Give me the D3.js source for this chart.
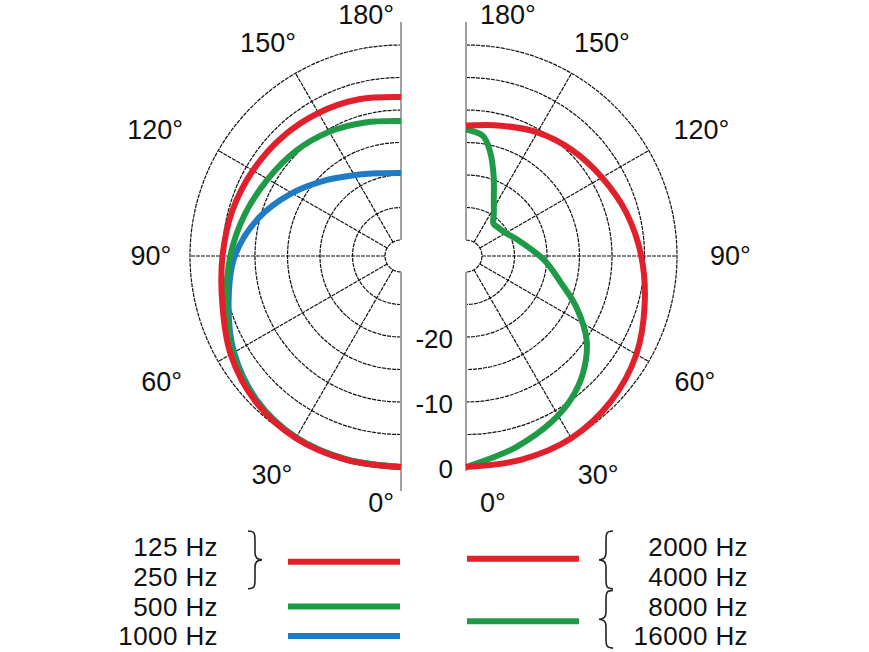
<!DOCTYPE html>
<html>
<head>
<meta charset="utf-8">
<script src="https://cdn.jsdelivr.net/npm/d3@7"></script>
<style>
  body { margin: 0; background: #fff; }
  text { font-family: 'Liberation Sans', Arial, sans-serif; fill: #111; }
</style>
</head>
<body>
<div id="chart"></div>
<script>
// Polar values, in dB (0 deg = front, 180 deg = rear)
const leftAngles = [0, 15, 30, 45, 60, 75, 90, 105, 120, 135, 150, 165, 180]
const db125 = [0, 0, -0.1, -0.8, -2.2, -4.0, -5.0, -5.6, -6.15, -6.6, -7.05, -7.5, -8.0]
const db500 = [0, -0.05, -0.2, -1.0, -2.6, -4.7, -6.2, -7.6, -8.8, -9.6, -10.4, -11.2, -11.7]
const db1000 = [0, -0.05, -0.2, -1.1, -2.8, -5.0, -6.9, -9.8, -13.1, -16.0, -18.1, -19.3, -19.7]

const rightAngles = [0, 15, 30, 45, 60, 75, 90, 105, 120, 135, 150, 165, 180]
const db2000 = [0, 0, -0.1, -0.9, -2.2, -4.0, -5.5, -6.9, -8.3, -9.4, -10.5, -11.7, -12.4]
const angles8000 = [0, 7, 15, 27, 36, 45, 55, 65, 74, 87, 108, 120, 133, 140, 147, 154, 161, 167, 172, 180]
const db8000 = [0, -1.1, -2.1, -3.7, -5.1, -7.0, -9.8, -13.7, -17.2, -20.4, -24.2, -25.4, -25.9, -25.9, -24.6, -22.7, -19.4, -16.0, -13.8, -13.0]

// Grid and labels
const ringLevels = [-30, -25, -20, -15, -10, -5, 0]
const spokeAngles = [30, 60, 90, 120, 150]
const dbTicks = [0, -10, -20]
const angleTicks = [0, 30, 60, 90, 120, 150, 180]
const legendLeft = ['125 Hz', '250 Hz', '500 Hz', '1000 Hz']
const legendRight = ['2000 Hz', '4000 Hz', '8000 Hz', '16000 Hz']

const red = '#e1202b'
const green = '#1f9a46'
const blue = '#1f7bc3'

const width = 869
const height = 652
const centers = { left: [401, 256], right: [466, 256] }

const svg = d3
  .select('#chart')
  .append('svg')
  .attr('width', width)
  .attr('height', height)

// Create your scales
const rScale = d3.scaleLinear().domain([-30, 0]).range([16, 211])
const angleScales = {
  left: d3.scaleLinear().domain([0, 180]).range([-Math.PI, 0]),
  right: d3.scaleLinear().domain([0, 180]).range([Math.PI, 0])
}
const rad = d => (d * Math.PI) / 180

const halves = {
  left: [
    { angles: leftAngles, values: db1000, color: blue },
    { angles: leftAngles, values: db500, color: green },
    { angles: leftAngles, values: db125, color: red }
  ],
  right: [
    { angles: angles8000, values: db8000, color: green },
    { angles: rightAngles, values: db2000, color: red }
  ]
}

// how far a label's centre sits beyond the label ring, per side
function labelExtra(side, d, w) {
  const s = Math.sin(rad(d))
  if (side === 'right') return (w / 2 - 6) * s
  if (d === 90) return 0
  if (d === 60 || d === 120) return (w / 2 + 6) * s
  return (w / 2 - 12) * s
}

function drawHalf(side) {
  const [cx, cy] = centers[side]
  const sign = side === 'left' ? -1 : 1
  const g = svg.append('g').attr('transform', 'translate(' + cx + ',' + cy + ')')

  // rings, half circles ending on the axis
  g.selectAll('.ring')
    .data(ringLevels)
    .enter()
    .append('path')
    .attr('class', 'ring')
    .attr('d', d => {
      const r = rScale(d)
      return sign < 0
        ? 'M0,' + r + 'A' + r + ',' + r + ' 0 0 1 0,' + -r
        : 'M0,' + -r + 'A' + r + ',' + r + ' 0 0 1 0,' + r
    })
    .attr('fill', 'none')
    .attr('stroke', '#111')
    .attr('stroke-width', 1.2)
    .attr('stroke-dasharray', '4,1')

  // spokes
  g.selectAll('.spoke')
    .data(spokeAngles)
    .enter()
    .append('line')
    .attr('class', 'spoke')
    .attr('x1', d => sign * rScale(-30) * Math.sin(rad(d)))
    .attr('y1', d => rScale(-30) * Math.cos(rad(d)))
    .attr('x2', d => sign * rScale(0) * Math.sin(rad(d)))
    .attr('y2', d => rScale(0) * Math.cos(rad(d)))
    .attr('stroke', '#111')
    .attr('stroke-width', 1.2)
    .attr('stroke-dasharray', '4,1')

  // grey 0-180 axis
  const axisEnds = [
    [-rScale(0) - 23, -rScale(-30)],
    [rScale(-30), rScale(0) + (side === 'left' ? 24 : 4)]
  ]
  g.selectAll('.vaxis')
    .data(axisEnds)
    .enter()
    .append('line')
    .attr('x1', 0)
    .attr('x2', 0)
    .attr('y1', d => d[0])
    .attr('y2', d => d[1])
    .attr('stroke', '#a0a0a0')
    .attr('stroke-width', 2)

  // response curves
  const line = d3
    .lineRadial()
    .angle(d => angleScales[side](d.a))
    .radius(d => rScale(d.v))
    .curve(d3.curveCatmullRom.alpha(0.5))

  g.selectAll('.curve')
    .data(halves[side])
    .enter()
    .append('path')
    .attr('class', 'curve')
    .attr('d', s => line(s.angles.map((a, i) => ({ a: a, v: s.values[i] }))))
    .attr('fill', 'none')
    .attr('stroke', s => s.color)
    .attr('stroke-width', 6)

  // angle labels
  const labels = g
    .selectAll('.alabel')
    .data(angleTicks)
    .enter()
    .append('text')
    .attr('class', 'alabel')
    .style('font-size', '27px')
    .attr('dy', '0.35em')
    .text(d => d + '°')

  labels.each(function(d) {
    const t = d3.select(this)
    if (d === 0 || d === 180) {
      t.attr('text-anchor', sign < 0 ? 'end' : 'start')
        .attr('x', sign < 0 ? -7 : 14)
        .attr('y', d === 0 ? 247 : -241)
    } else {
      const w = this.getComputedTextLength()
      const s = Math.sin(rad(d))
      t.attr('text-anchor', 'middle')
        .attr('x', sign * (250 * s + labelExtra(side, d, w)))
        .attr('y', 252 * Math.cos(rad(d)) + (d === 150 ? 5 : 0))
    }
  })
}

drawHalf('left')
drawHalf('right')

// dB scale between the halves
svg
  .selectAll('.dblabel')
  .data(dbTicks)
  .enter()
  .append('text')
  .attr('class', 'dblabel')
  .attr('x', 453)
  .attr('y', d => centers.left[1] + rScale(d) + 2)
  .attr('dy', '0.35em')
  .attr('text-anchor', 'end')
  .style('font-size', '26px')
  .text(d => d)

// Legend
const rowY = i => 547 + i * 29.7

svg
  .selectAll('.legl')
  .data(legendLeft)
  .enter()
  .append('text')
  .attr('x', 218)
  .attr('y', (d, i) => rowY(i))
  .attr('dy', '0.35em')
  .attr('text-anchor', 'end')
  .style('font-size', '26px')
  .style('letter-spacing', '0.4px')
  .text(d => d)

svg
  .selectAll('.legr')
  .data(legendRight)
  .enter()
  .append('text')
  .attr('x', 748)
  .attr('y', (d, i) => rowY(i))
  .attr('dy', '0.35em')
  .attr('text-anchor', 'end')
  .style('font-size', '26px')
  .style('letter-spacing', '0.4px')
  .text(d => d)

const legendLines = [
  { x: 288, rows: [0, 1], color: red },
  { x: 288, rows: [2, 2], color: green },
  { x: 288, rows: [3, 3], color: blue },
  { x: 467, rows: [0, 1], color: red, dy: -3 },
  { x: 467, rows: [2, 3], color: green }
]

svg
  .selectAll('.legline')
  .data(legendLines)
  .enter()
  .append('line')
  .attr('x1', d => d.x)
  .attr('x2', d => d.x + 112)
  .attr('y1', d => (rowY(d.rows[0]) + rowY(d.rows[1])) / 2 + (d.dy || 0))
  .attr('y2', d => (rowY(d.rows[0]) + rowY(d.rows[1])) / 2 + (d.dy || 0))
  .attr('stroke', d => d.color)
  .attr('stroke-width', 6)

// curly braces grouping two rows
function brace(x, y0, y1, dir) {
  const w = 7 * dir
  const ym = (y0 + y1) / 2
  return (
    'M' + x + ',' + y0 +
    'C' + (x + w) + ',' + y0 + ' ' + (x + w) + ',' + (y0 + 3) + ' ' + (x + w) + ',' + (y0 + 10) +
    'L' + (x + w) + ',' + (ym - 7) +
    'C' + (x + w) + ',' + (ym - 2) + ' ' + (x + w * 1.3) + ',' + ym + ' ' + (x + 2 * w) + ',' + ym +
    'C' + (x + w * 1.3) + ',' + ym + ' ' + (x + w) + ',' + (ym + 2) + ' ' + (x + w) + ',' + (ym + 7) +
    'L' + (x + w) + ',' + (y1 - 10) +
    'C' + (x + w) + ',' + (y1 - 3) + ' ' + (x + w) + ',' + y1 + ' ' + x + ',' + y1
  )
}

const braces = [
  { x: 248, rows: [0, 1], dir: 1 },
  { x: 613, rows: [0, 1], dir: -1 },
  { x: 613, rows: [2, 3], dir: -1 }
]

svg
  .selectAll('.brace')
  .data(braces)
  .enter()
  .append('path')
  .attr('d', d => brace(d.x, rowY(d.rows[0]) - 16, rowY(d.rows[1]) + 12, d.dir))
  .attr('fill', 'none')
  .attr('stroke', '#222')
  .attr('stroke-width', 1.6)
</script>
</body>
</html>
